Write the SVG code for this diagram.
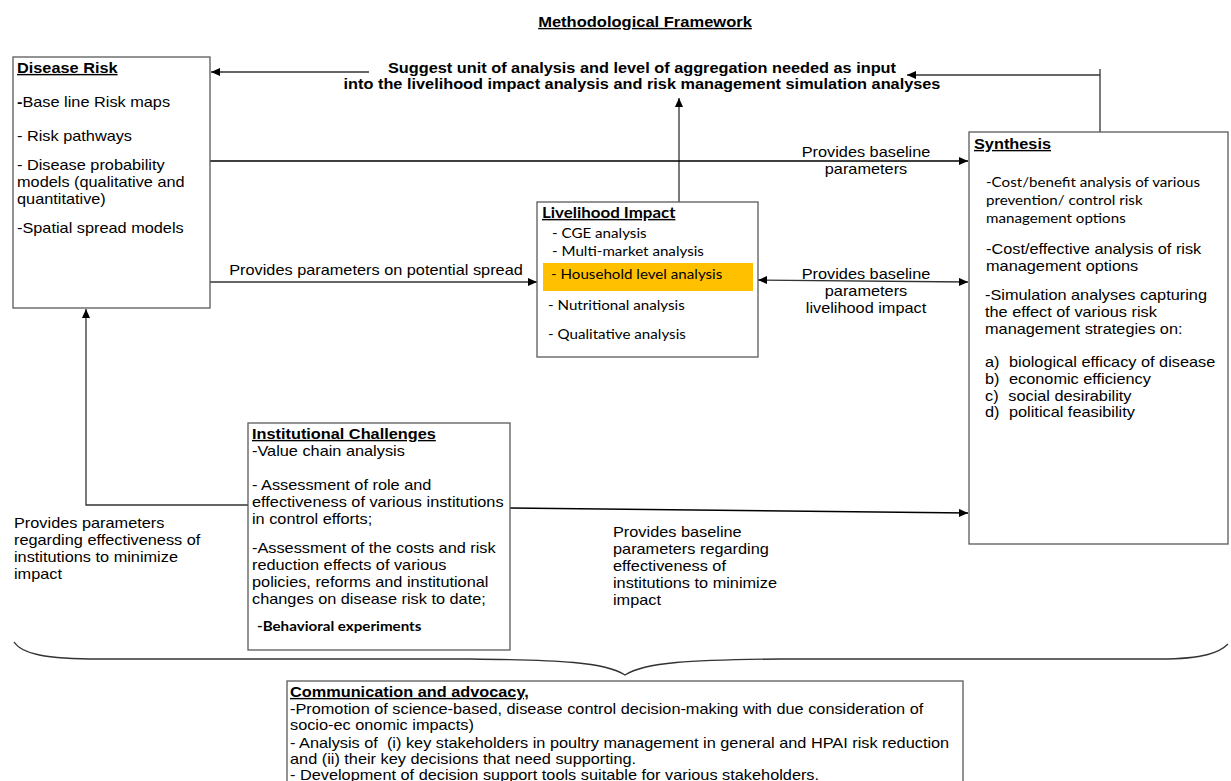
<svg xmlns="http://www.w3.org/2000/svg" width="1231" height="781" viewBox="0 0 1231 781">
<defs>
<style>
.t{font-family:"Liberation Sans",Arial,sans-serif;font-size:14px;fill:#000}
.c{font-family:Lato,"Liberation Sans",sans-serif;font-size:13px;fill:#000}
.b{font-weight:bold}
.u{text-decoration:underline}
.m{text-anchor:middle}
.box{fill:#fff;stroke:#5a5a5a;stroke-width:1.3}
.ln{fill:none;stroke:#333;stroke-width:1.3}
.lk{fill:none;stroke:#000;stroke-width:1.5}
.pre{white-space:pre}
</style>
<marker id="ah" markerUnits="userSpaceOnUse" markerWidth="9" markerHeight="8" refX="9" refY="4" orient="auto-start-reverse">
<path d="M0,0 L9,4 L0,8 z" fill="#000"/>
</marker>
</defs>
<rect width="1231" height="781" fill="#fff"/>

<g id="title" transform="translate(645 0) scale(1.18 1)">
<text class="t b u m" x="0" y="27">Methodological Framework</text>
</g>

<g id="connectors">
<path class="ln" d="M369 72 L211 72" marker-end="url(#ah)"/>
<path class="ln" d="M1100 132 L1100 69"/>
<path class="ln" d="M1100 75 L907 75" marker-end="url(#ah)"/>
<path class="ln" d="M679 202 L679 98" marker-end="url(#ah)"/>
<path class="lk" d="M210 161 L968 161" marker-end="url(#ah)"/>
<path class="ln" d="M210 282 L537 282" marker-end="url(#ah)"/>
<path class="ln" d="M758 280 L968 282" marker-start="url(#ah)" marker-end="url(#ah)"/>
<path class="ln" d="M248 505 L86 505 L86 309" marker-end="url(#ah)"/>
<path class="lk" d="M510 508 L968 513" marker-end="url(#ah)"/>
<path class="ln" d="M14 642 C22 654 45 659 100 659 L470 659 C560 660 605 662 625 675 C645 662 690 660 780 659 L1160 659 C1205 659 1220 652 1228 644"/>
<g transform="translate(642 0) scale(1.165 1)">
<text class="t b m" x="0" y="73">Suggest unit of analysis and level of aggregation needed as input</text>
<text class="t b m" x="0" y="89">into the livelihood impact analysis and risk management simulation analyses</text>
</g>
<g transform="translate(866 0) scale(1.165 1)">
<text class="t m" x="0" y="157">Provides baseline</text>
<text class="t m" x="0" y="174">parameters</text>
<text class="t m" x="0" y="279">Provides baseline</text>
<text class="t m" x="0" y="296">parameters</text>
<text class="t m" x="0" y="313">livelihood impact</text>
</g>
<g transform="translate(376 0) scale(1.165 1)">
<text class="t m" x="0" y="275">Provides parameters on potential spread</text>
</g>
<g transform="translate(14 0) scale(1.165 1)">
<text class="t" x="0" y="528">Provides parameters</text>
<text class="t" x="0" y="545">regarding effectiveness of</text>
<text class="t" x="0" y="562">institutions to minimize</text>
<text class="t" x="0" y="579">impact</text>
</g>
<g transform="translate(613 0) scale(1.165 1)">
<text class="t" x="0" y="537">Provides baseline</text>
<text class="t" x="0" y="554">parameters regarding</text>
<text class="t" x="0" y="571">effectiveness of</text>
<text class="t" x="0" y="588">institutions to minimize</text>
<text class="t" x="0" y="605">impact</text>
</g>
</g>

<g id="disease-risk">
<rect class="box" x="13" y="57" width="197" height="251"/>
<g transform="translate(17 0) scale(1.165 1)">
<text class="t b u" x="0" y="73">Disease Risk</text>
<text class="t" x="0" y="107"><tspan class="b">-</tspan>Base line Risk maps</text>
<text class="t" x="0" y="141">- Risk pathways</text>
<text class="t" x="0" y="170">- Disease probability</text>
<text class="t" x="0" y="187">models (qualitative and</text>
<text class="t" x="0" y="204">quantitative)</text>
<text class="t" x="0" y="233">-Spatial spread models</text>
</g>
</g>

<g id="livelihood-impact">
<rect class="box" x="537" y="202" width="221" height="155"/>
<rect x="543" y="263" width="210" height="28" fill="#FFC000"/>
<g transform="translate(542 0) scale(1.165 1)">
<text class="c b u" x="0" y="218" style="font-size:14.5px">Livelihood Impact</text>
</g>
<g transform="translate(552 0) scale(1.165 1)">
<text class="c" x="0" y="238">- CGE analysis</text>
<text class="c" x="0" y="256">- Multi-market analysis</text>
</g>
<g transform="translate(551 0) scale(1.165 1)">
<text class="c" x="0" y="279">- Household level analysis</text>
</g>
<g transform="translate(548 0) scale(1.165 1)">
<text class="c" x="0" y="310">- Nutritional analysis</text>
<text class="c" x="0" y="339">- Qualitative analysis</text>
</g>
</g>

<g id="synthesis">
<rect class="box" x="969" y="132" width="259" height="412"/>
<g transform="translate(974 0) scale(1.165 1)">
<text class="t b u" x="0" y="149">Synthesis</text>
</g>
<g transform="translate(986 0) scale(1.165 1)">
<text class="c" x="0" y="187">-Cost/benefit analysis of various</text>
<text class="c" x="0" y="205">prevention/ control risk</text>
<text class="c" x="0" y="223">management options</text>
</g>
<g transform="translate(986 0) scale(1.165 1)">
<text class="t" x="0" y="254">-Cost/effective analysis of risk</text>
<text class="t" x="0" y="271">management options</text>
</g>
<g transform="translate(985 0) scale(1.165 1)">
<text class="t" x="0" y="300">-Simulation analyses capturing</text>
<text class="t" x="0" y="317">the effect of various risk</text>
<text class="t" x="0" y="334">management strategies on:</text>
<text class="t" x="0" y="367">a)<tspan x="20.6">biological efficacy of disease</tspan></text>
<text class="t" x="0" y="384">b)<tspan x="20.6">economic efficiency</tspan></text>
<text class="t" x="0" y="401">c)<tspan x="20">social desirability</tspan></text>
<text class="t" x="0" y="417">d)<tspan x="20.6">political feasibility</tspan></text>
</g>
</g>

<g id="institutional-challenges">
<rect class="box" x="248" y="423" width="262" height="227"/>
<g transform="translate(252 0) scale(1.165 1)">
<text class="t b u" x="0" y="439">Institutional Challenges</text>
<text class="t" x="0" y="456">-Value chain analysis</text>
<text class="t" x="0" y="490">- Assessment of role and</text>
<text class="t" x="0" y="507">effectiveness of various institutions</text>
<text class="t" x="0" y="524">in control efforts;</text>
<text class="t" x="0" y="553">-Assessment of the costs and risk</text>
<text class="t" x="0" y="570">reduction effects of various</text>
<text class="t" x="0" y="587">policies, reforms and institutional</text>
<text class="t" x="0" y="604">changes on disease risk to date;</text>
</g>
<g transform="translate(257 0) scale(1.165 1)">
<text class="c b" x="0" y="631">-Behavioral experiments</text>
</g>
</g>

<g id="communication-advocacy">
<rect class="box" x="287" y="681" width="676" height="130"/>
<g transform="translate(290 0) scale(1.165 1)">
<text class="t b u" x="0" y="697">Communication and advocacy,</text>
<text class="t" x="0" y="714">-Promotion of science-based, disease control decision-making with due consideration of</text>
<text class="t" x="0" y="730">socio-ec onomic impacts)</text>
<text class="t pre" x="0" y="748">- Analysis of  (i) key stakeholders in poultry management in general and HPAI risk reduction</text>
<text class="t" x="0" y="764">and (ii) their key decisions that need supporting.</text>
<text class="t" x="0" y="780">- Development of decision support tools suitable for various stakeholders.</text>
</g>
</g>
</svg>
